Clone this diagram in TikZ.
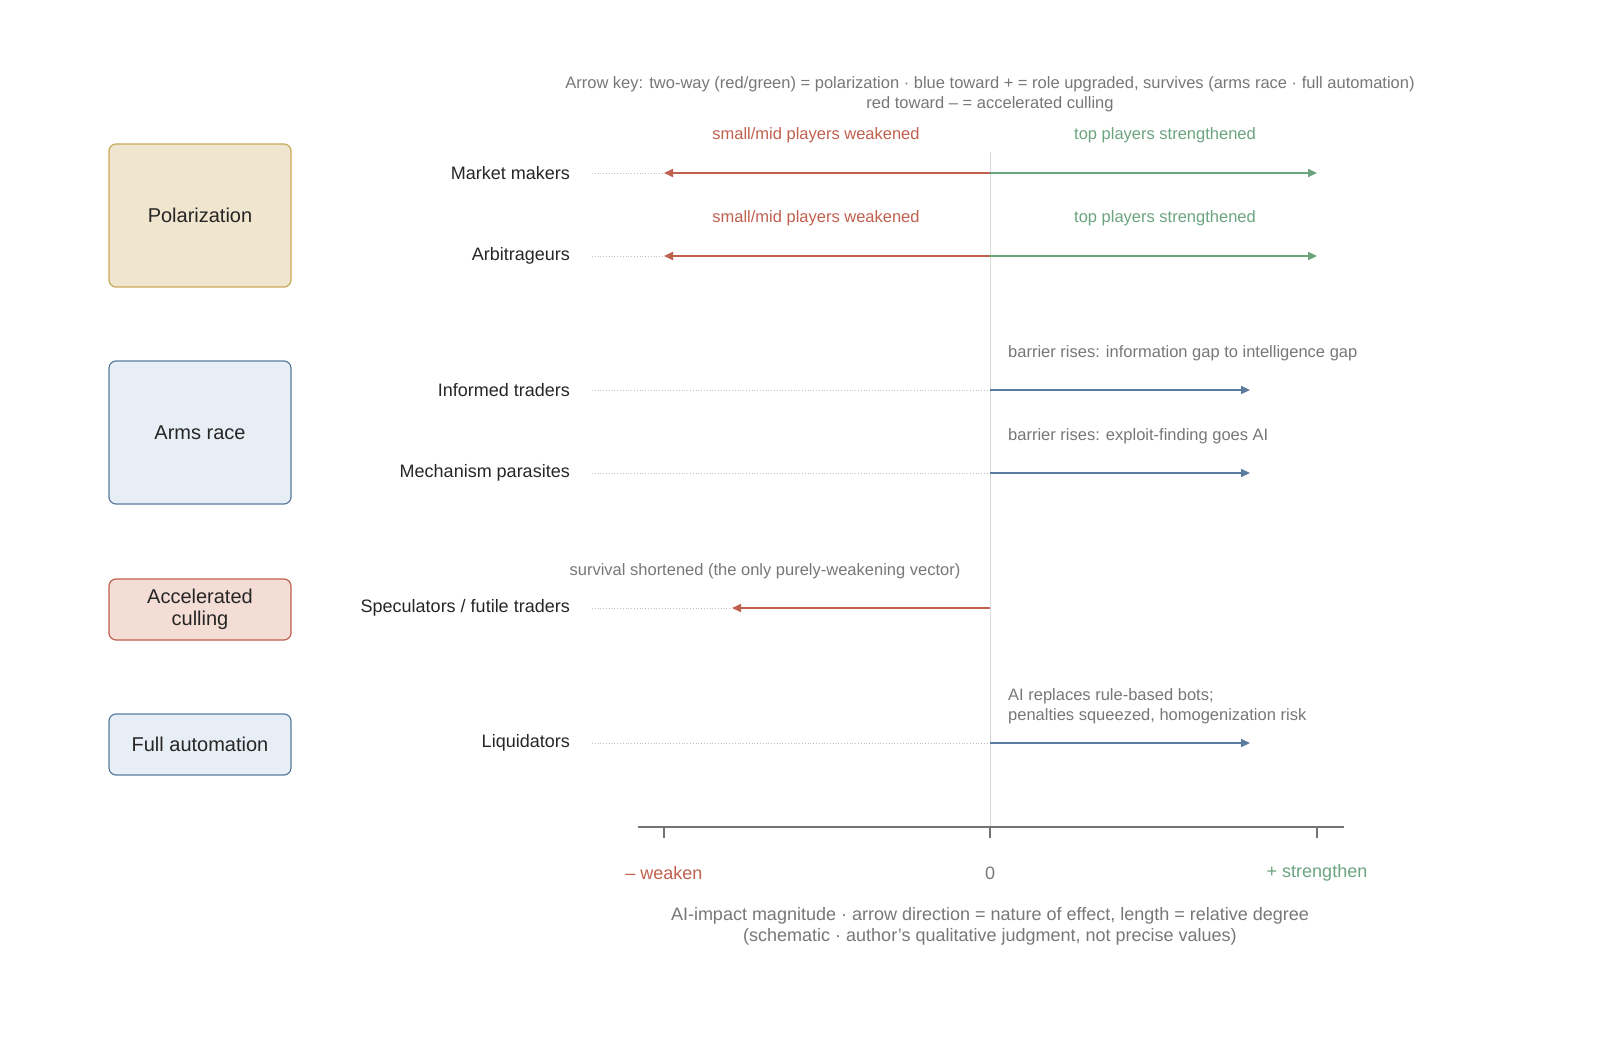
\documentclass[tikz,border=0pt]{standalone}
\usepackage{fontspec}
\setmainfont{Liberation Sans}
\usetikzlibrary{arrows.meta}
\definecolor{cred}{HTML}{C0604E}
\definecolor{cgreen}{HTML}{6BA37F}
\definecolor{cblue}{HTML}{5A7A9E}
\definecolor{cgray}{HTML}{777777}
\definecolor{polF}{HTML}{F0E5CE}\definecolor{polD}{HTML}{C9A85A}
\definecolor{armF}{HTML}{E8EEF6}\definecolor{armD}{HTML}{5A7BA0}
\definecolor{culF}{HTML}{F3DDD5}\definecolor{culD}{HTML}{C0604E}
\begin{document}
\begin{tikzpicture}[x=1pt,y=-1pt,
 box/.style={draw,rounded corners=7pt,line width=1.2pt,minimum width=182pt,align=center,font=\fontsize{20}{22}\selectfont,text=black!85},
 row/.style={anchor=east,font=\fontsize{18}{20}\selectfont,text=black!85,inner sep=0pt},
 ann/.style={font=\fontsize{16.5}{20}\selectfont,text=cgray,inner sep=0pt,align=left},
 arr/.style={line width=2pt,-{Triangle[length=9pt,width=8pt]}},
 dot/.style={draw=black!25,dotted,line width=0.8pt}]
\useasboundingbox (0,0) rectangle (1600,1044);
% boxes
\node[box,draw=polD,fill=polF,minimum height=143pt] (b1) at (200,215.5) {Polarization};
\node[box,draw=armD,fill=armF,minimum height=143pt] (b2) at (200,432.5) {Arms race};
\node[box,draw=culD,fill=culF,minimum height=61pt] (b3) at (200,609.5) {Accelerated\\culling};
\node[box,draw=armD,fill=armF,minimum height=61pt] (b4) at (200,744.5) {Full automation};
% axis
\coordinate (vt) at (990,152); \coordinate (vb) at (990,827);
\draw[black!15,line width=1pt] (vt) -- (vb);
\coordinate (al) at (638,827); \coordinate (ar) at (1344,827);
\draw[black!55,line width=1.3pt] (al) -- (ar);
\foreach \x/\n in {664/tl,990/tm,1317/tr}{\coordinate (\n) at (\x,827); \draw[black!55,line width=1.3pt] (\n) -- ++(0,11);}
\node[font=\fontsize{18}{20}\selectfont,text=cred] (lw) at (664,873) {– weaken};
\node[font=\fontsize{18}{20}\selectfont,text=cgray] (l0) at (990,873) {0};
\node[font=\fontsize{18}{20}\selectfont,text=cgreen] (ls) at (1317,873) {+ strengthen};
\node[font=\fontsize{18}{21}\selectfont,text=cgray,align=center] (cap) at (990,926) {AI-impact magnitude · arrow direction = nature of effect, length = relative degree\\(schematic · author's qualitative judgment, not precise values)};
\node[font=\fontsize{16.5}{20}\selectfont,text=cgray,align=center] (key) at (990,94) {Arrow key: two-way (red/green) = polarization · blue toward + = role upgraded, survives (arms race · full automation)\\red toward – = accelerated culling};
% rows
\node[row] (r1) at (570,173) {Market makers};
\node[row] (r2) at (570,256) {Arbitrageurs};
\node[row] (r3) at (570,390) {Informed traders};
\node[row] (r4) at (570,473) {Mechanism parasites};
\node[row] (r5) at (570,608) {Speculators / futile traders};
\node[row] (r6) at (570,743) {Liquidators};
\foreach \n/\y in {r1/173,r2/256,r3/390,r4/473,r5/608,r6/743}{\coordinate (\n o) at (990,\y); \coordinate (\n d) at (592,\y);}
% polarization rows
\foreach \n/\y in {r1/173,r2/256}{
 \coordinate (\n L) at (664,\y); \coordinate (\n R) at (1317,\y);
 \draw[dot] (\n d) -- (\n L);
 \draw[arr,cred] (\n o) -- (\n L);
 \draw[arr,cgreen] (\n o) -- (\n R);
 \node[ann,text=cred] at (816,\y-38) {small/mid players weakened};
 \node[ann,text=cgreen] at (1165,\y-38) {top players strengthened};}
% blue rows
\foreach \n/\y in {r3/390,r4/473,r6/743}{
 \coordinate (\n R) at (1250,\y);
 \draw[dot] (\n d) -- (\n o);
 \draw[arr,cblue] (\n o) -- (\n R);}
\node[ann,anchor=west] at (1008,353) {barrier rises: information gap to intelligence gap};
\node[ann,anchor=west] at (1008,436) {barrier rises: exploit-finding goes AI};
\node[ann,anchor=west] at (1008,706) {AI replaces rule-based bots;\\penalties squeezed, homogenization risk};
% speculators
\coordinate (r5L) at (732,608);
\draw[dot] (r5d) -- (r5L);
\draw[arr,cred] (r5o) -- (r5L);
\node[ann] at (765,571) {survival shortened (the only purely-weakening vector)};
\end{tikzpicture}
\end{document}
